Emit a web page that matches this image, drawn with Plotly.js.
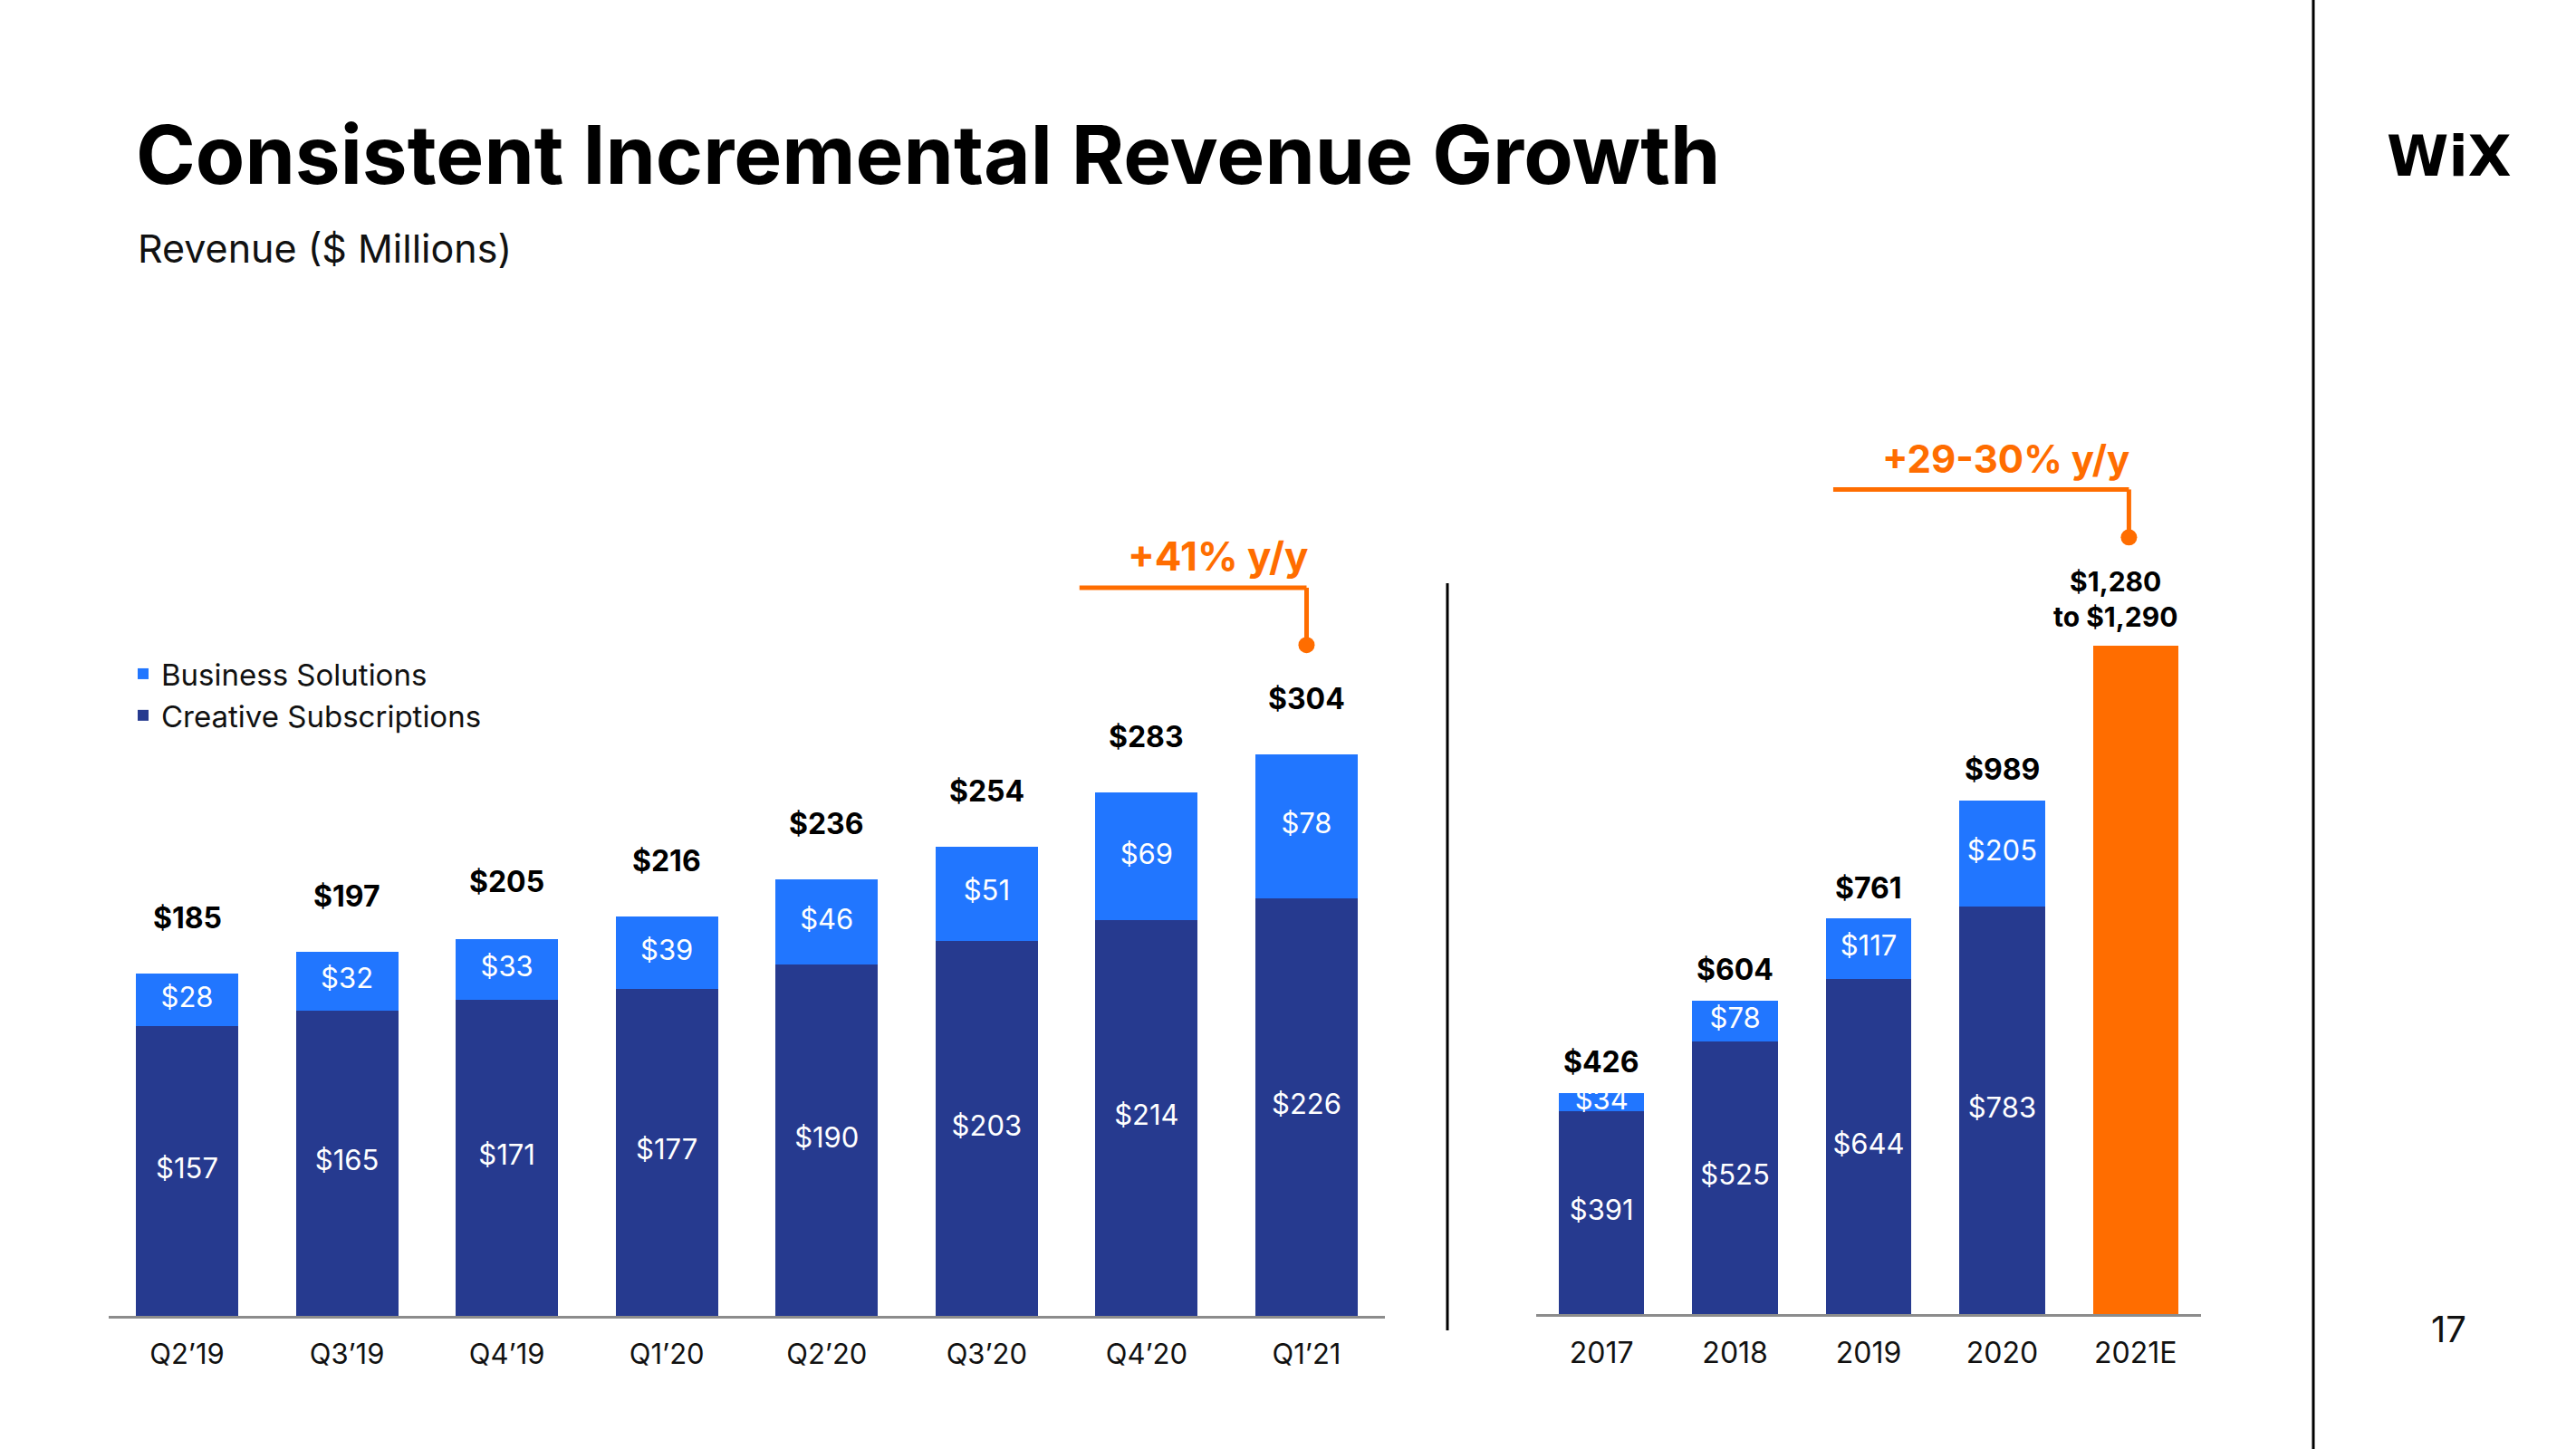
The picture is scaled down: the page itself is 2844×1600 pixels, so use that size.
<!DOCTYPE html>
<html>
<head>
<meta charset="utf-8">
<script src="https://cdn.plot.ly/plotly-3.0.1.min.js"></script>
<style>
  html, body { margin: 0; padding: 0; background: #ffffff; }
  #chart { width: 2844px; height: 1600px; }
</style>
</head>
<body>
<div id="chart"></div>
<script>
// ---- Data ----
const quarters = ["Q2’19", "Q3’19", "Q4’19", "Q1’20", "Q2’20", "Q3’20", "Q4’20", "Q1’21"];
const quarterCreative = [157, 165, 171, 177, 190, 203, 214, 226];
const quarterBusiness = [28, 32, 33, 39, 46, 51, 69, 78];
const quarterTotal = [185, 197, 205, 216, 236, 254, 283, 304];

const years = ["2017", "2018", "2019", "2020", "2021E"];
const yearCreative = [391, 525, 644, 783];
const yearBusiness = [34, 78, 117, 205];
const yearTotal = [426, 604, 761, 989];
const guidanceLow = 1280;
const guidanceHigh = 1290;

// ---- Styles ----
const NAVY = "#263A8F";
const BLUE = "#2176FF";
const ORANGE = "#FF6D00";
const FONT = "Inter, 'Open Sans', sans-serif";

const money = v => "$" + v.toLocaleString("en-US");
const guidanceMid = (guidanceLow + guidanceHigh) / 2;
const histYears = years.slice(0, 4);

const traces = [];

// Left chart: quarterly stacked bars
traces.push({
  type: "bar", name: "Creative Subscriptions", x: quarters, y: quarterCreative,
  marker: { color: NAVY }, xaxis: "x", yaxis: "y", hoverinfo: "skip"
});
traces.push({
  type: "bar", name: "Business Solutions", x: quarters, y: quarterBusiness,
  marker: { color: BLUE }, xaxis: "x", yaxis: "y", hoverinfo: "skip"
});

// Right chart: annual stacked bars
traces.push({
  type: "bar", name: "Creative Subscriptions", x: histYears, y: yearCreative,
  marker: { color: NAVY }, xaxis: "x2", yaxis: "y2", showlegend: false, hoverinfo: "skip"
});
traces.push({
  type: "bar", name: "Business Solutions", x: histYears, y: yearBusiness,
  marker: { color: BLUE }, xaxis: "x2", yaxis: "y2", showlegend: false, hoverinfo: "skip"
});
traces.push({
  type: "bar", name: "2021E guidance", x: [years[4]], y: [guidanceMid],
  marker: { color: ORANGE }, xaxis: "x2", yaxis: "y2", showlegend: false, hoverinfo: "skip"
});

// Segment labels (centred in each segment)
const segFont = { family: FONT, size: 31, color: "#ffffff" };
traces.push({
  type: "scatter", mode: "text", x: quarters, y: quarterCreative.map(v => v / 2),
  text: quarterCreative.map(money), textfont: segFont, xaxis: "x", yaxis: "y",
  showlegend: false, hoverinfo: "skip"
});
traces.push({
  type: "scatter", mode: "text", x: quarters,
  y: quarterBusiness.map((v, i) => quarterCreative[i] + v / 2),
  text: quarterBusiness.map(money), textfont: segFont, xaxis: "x", yaxis: "y",
  showlegend: false, hoverinfo: "skip"
});
traces.push({
  type: "scatter", mode: "text", x: histYears, y: yearCreative.map(v => v / 2),
  text: yearCreative.map(money), textfont: segFont, xaxis: "x2", yaxis: "y2",
  showlegend: false, hoverinfo: "skip"
});
traces.push({
  type: "scatter", mode: "text", x: histYears,
  y: yearBusiness.map((v, i) => yearCreative[i] + v / 2),
  text: yearBusiness.map(money), textfont: segFont, xaxis: "x2", yaxis: "y2",
  showlegend: false, hoverinfo: "skip"
});

// ---- Annotations ----
const annotations = [];
const totalFont = { family: FONT, size: 32, color: "#000000", weight: 700 };
quarters.forEach((q, i) => {
  annotations.push({
    xref: "x", yref: "y", x: i, y: quarterTotal[i], text: money(quarterTotal[i]),
    showarrow: false, yanchor: "bottom", yshift: 40, font: totalFont
  });
});
histYears.forEach((yr, i) => {
  annotations.push({
    xref: "x2", yref: "y2", x: i, y: yearTotal[i], text: money(yearTotal[i]),
    showarrow: false, yanchor: "bottom", yshift: 12, font: totalFont
  });
});
annotations.push({
  xref: "x2", yref: "y2", x: 4, y: guidanceMid,
  text: money(guidanceLow) + "<br>to " + money(guidanceHigh),
  showarrow: false, yanchor: "bottom", yshift: 12, xshift: -22,
  font: { family: FONT, size: 30, color: "#000000", weight: 700 }
});

// Growth call-outs
const calloutFont = { family: FONT, size: 44, color: ORANGE, weight: 700 };
annotations.push({
  xref: "x", yref: "y", x: 6.45, y: 411, text: "+41% y/y",
  showarrow: false, font: calloutFont
});
annotations.push({
  xref: "x2", yref: "y2", x: 3.03, y: 1646, text: "+29-30% y/y",
  showarrow: false, font: { family: FONT, size: 42, color: ORANGE, weight: 700 }
});

// Subtitle, logo, page number
annotations.push({
  xref: "paper", yref: "paper", x: 150 / 2844, y: 1 - 274 / 1600, xanchor: "left", yanchor: "middle",
  text: "Revenue ($ Millions)", showarrow: false,
  font: { family: FONT, size: 43, color: "#111111" }
});
annotations.push({
  xref: "paper", yref: "paper", x: 2703 / 2844, y: 1 - 172 / 1600, xanchor: "center", yanchor: "middle",
  text: "WiX", showarrow: false,
  font: { family: "'DejaVu Sans', sans-serif", size: 62, color: "#000000", weight: 700 }
});
annotations.push({
  xref: "paper", yref: "paper", x: 2703 / 2844, y: 1 - 1467 / 1600, xanchor: "center", yanchor: "middle",
  text: "17", showarrow: false,
  font: { family: FONT, size: 40, color: "#111111" }
});

// ---- Shapes ----
const shapes = [
  // left call-out connector
  { type: "line", xref: "x", yref: "y", x0: 5.58, x1: 7, y0: 394, y1: 394, line: { color: ORANGE, width: 5 } },
  { type: "line", xref: "x", yref: "y", x0: 7, x1: 7, y0: 394, y1: 363, line: { color: ORANGE, width: 5 } },
  { type: "circle", xref: "x", yref: "y", xsizemode: "pixel", ysizemode: "pixel",
    xanchor: 7, yanchor: 363, x0: -9, x1: 9, y0: -9, y1: 9,
    fillcolor: ORANGE, line: { width: 0 } },
  // right call-out connector
  { type: "line", xref: "x2", yref: "y2", x0: 1.735, x1: 3.95, y0: 1586, y1: 1586, line: { color: ORANGE, width: 5 } },
  { type: "line", xref: "x2", yref: "y2", x0: 3.95, x1: 3.95, y0: 1586, y1: 1494, line: { color: ORANGE, width: 5 } },
  { type: "circle", xref: "x2", yref: "y2", xsizemode: "pixel", ysizemode: "pixel",
    xanchor: 3.95, yanchor: 1494, x0: -9, x1: 9, y0: -9, y1: 9,
    fillcolor: ORANGE, line: { width: 0 } },
  // divider between charts
  { type: "line", xref: "paper", yref: "paper", x0: 1598 / 2844, x1: 1598 / 2844, y0: 1 - 644 / 1600, y1: 1 - 1469 / 1600, line: { color: "#000000", width: 3 } },
  // right border line
  { type: "line", xref: "paper", yref: "paper", x0: 2554 / 2844, x1: 2554 / 2844, y0: 0, y1: 1, line: { color: "#000000", width: 3 } }
];

const tickFont = { family: FONT, size: 31, color: "#111111" };
const layout = {
  width: 2844, height: 1600,
  margin: { l: 0, r: 0, t: 0, b: 0 },
  paper_bgcolor: "#ffffff", plot_bgcolor: "rgba(0,0,0,0)",
  barmode: "stack", bargap: 0.36,
  font: { family: FONT },
  title: {
    text: "<b>Consistent Incremental Revenue Growth</b>",
    x: 150 / 2844, xanchor: "left", xref: "paper",
    y: 1 - 172 / 1600, yanchor: "middle", yref: "paper",
    font: { family: FONT, size: 89, color: "#000000" }
  },
  xaxis: {
    domain: [120 / 2844, 1529 / 2844], type: "category", range: [-0.49, 7.49],
    showline: true, linecolor: "#8C8C8C", linewidth: 3, ticks: "", showgrid: false,
    tickfont: tickFont, ticklabelstandoff: 13, fixedrange: true
  },
  yaxis: {
    domain: [147 / 1600, 0.875], range: [0, 614], visible: false, fixedrange: true
  },
  xaxis2: {
    domain: [1696 / 2844, 2430 / 2844], type: "category", range: [-0.49, 4.49],
    showline: true, linecolor: "#8C8C8C", linewidth: 3, ticks: "", showgrid: false,
    tickfont: { family: FONT, size: 32, color: "#111111" }, ticklabelstandoff: 13,
    fixedrange: true, anchor: "y2"
  },
  yaxis2: {
    domain: [149 / 1600, 0.875], range: [0, 2179], visible: false, fixedrange: true, anchor: "x2"
  },
  showlegend: true,
  legend: {
    x: 138 / 2844, xanchor: "left", y: 1 - 716 / 1600, yanchor: "top",
    traceorder: "reversed", font: { family: FONT, size: 33, color: "#111111" },
    bgcolor: "rgba(0,0,0,0)", itemclick: false, itemdoubleclick: false
  },
  annotations: annotations,
  shapes: shapes
};

Plotly.newPlot("chart", traces, layout, { staticPlot: true, displayModeBar: false });
</script>
</body>
</html>
